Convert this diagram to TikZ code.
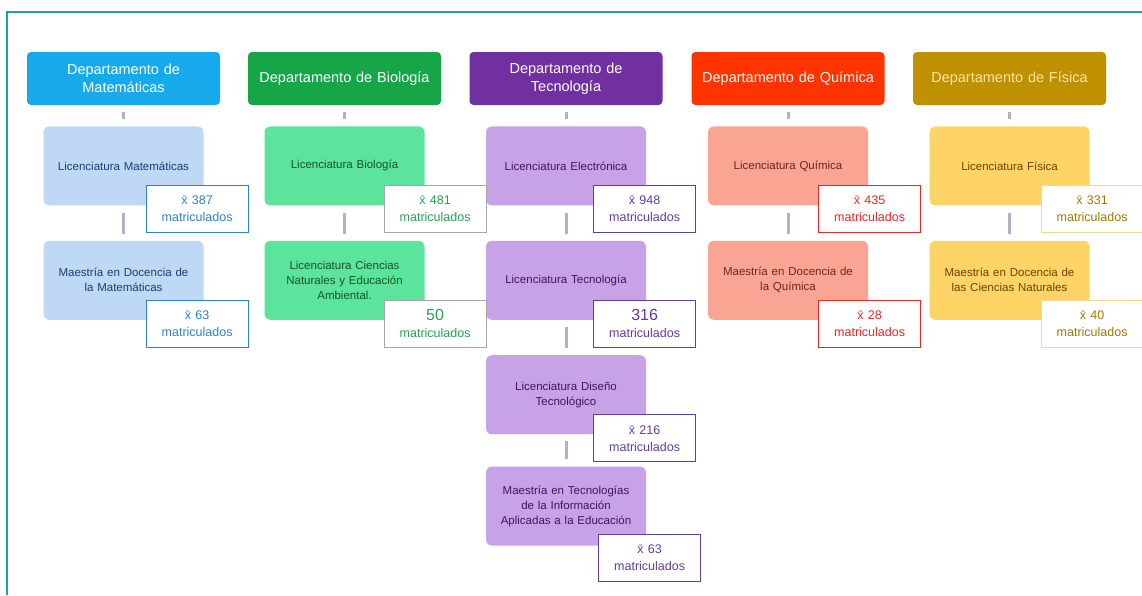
\documentclass[tikz,border=0pt]{standalone}
\usepackage{fontspec}
\setmainfont{Liberation Sans}
\usepackage{xcolor}
\usepackage{tikz}
\definecolor{matblue}{RGB}{22,170,236}
\definecolor{matlight}{RGB}{190,216,246}
\definecolor{mattext}{RGB}{32,60,112}
\definecolor{matstat}{RGB}{46,130,205}
\definecolor{biogreen}{RGB}{22,166,72}
\definecolor{biolight}{RGB}{92,228,156}
\definecolor{biotext}{RGB}{22,82,42}
\definecolor{biostat}{RGB}{40,160,85}
\definecolor{tecpurple}{RGB}{112,48,160}
\definecolor{teclight}{RGB}{200,162,230}
\definecolor{tectext}{RGB}{62,22,92}
\definecolor{tecstat}{RGB}{100,60,160}
\definecolor{quimred}{RGB}{255,52,0}
\definecolor{quimlight}{RGB}{250,165,148}
\definecolor{quimtext}{RGB}{112,36,26}
\definecolor{quimstat}{RGB}{230,40,40}
\definecolor{fisgold}{RGB}{191,144,0}
\definecolor{fislight}{RGB}{255,212,102}
\definecolor{fistext}{RGB}{100,72,0}
\definecolor{fisstat}{RGB}{160,122,0}
\definecolor{fisborder}{RGB}{240,216,140}
\definecolor{framecolor}{RGB}{30,160,166}
\definecolor{linkgray}{RGB}{170,180,200}
\usetikzlibrary{positioning, calc}

\newcommand{\xmean}{x\char"0304}

\begin{document}
\begin{tikzpicture}[x=1pt, y=1pt,
    dept/.style={fill=#1, rounded corners=4pt, minimum width=193pt, minimum height=53pt,
                 text width=190pt, align=center, font=\fontsize{14.5}{18}\selectfont, text=white, inner sep=1.5pt},
    prog/.style={fill=#1, rounded corners=6pt, minimum width=160pt, minimum height=79pt,
                 text width=157pt, align=center, font=\fontsize{11.5}{15}\selectfont, inner sep=1.5pt},
    stat/.style={draw=#1, text=#1, fill=white, line width=0.8pt, minimum width=102pt, minimum height=47pt,
                 text width=98pt, align=center, font=\fontsize{12.5}{17}\selectfont, inner sep=1pt, anchor=north west},
    link/.style={draw=linkgray, line width=3pt, shorten <=7pt, shorten >=7pt},
    node distance=35pt]

    \useasboundingbox (0,0) rectangle (1142,-595);
    \fill[white] (0,0) rectangle (1142,-595);
    \draw[framecolor, line width=1.6pt] (1142,-12) -- (7,-12) -- (7,-595);

    % departamentos
    \node[dept=matblue]   (mat)  at (123.5,-78.5)  {Departamento de\\Matemáticas};
    \node[dept=biogreen]  (bio)  at (344.5,-78.5)  {Departamento de Biología};
    \node[dept=tecpurple] (tec)  at (566,-78.5)    {Departamento de\\Tecnología};
    \node[dept=quimred]   (quim) at (788,-78.5)    {Departamento de Química};
    \node[dept=fisgold, text=fislight!60] (fis) at (1009.5,-78.5) {Departamento de Física};

    % programas
    \node[prog=matlight, text=mattext, below=21pt of mat] (mat1) {Licenciatura Matemáticas};
    \node[prog=matlight, text=mattext, below=of mat1] (mat2) {Maestría en Docencia de\\la Matemáticas};

    \node[prog=biolight, text=biotext, below=21pt of bio] (bio1) {Licenciatura Biología};
    \node[prog=biolight, text=biotext, below=of bio1] (bio2) {Licenciatura Ciencias\\Naturales y Educación\\Ambiental.};

    \node[prog=teclight, text=tectext, below=21pt of tec] (tec1) {Licenciatura Electrónica};
    \node[prog=teclight, text=tectext, below=of tec1] (tec2) {Licenciatura Tecnología};
    \node[prog=teclight, text=tectext, below=of tec2] (tec3) {Licenciatura Diseño\\Tecnológico};
    \node[prog=teclight, text=tectext, below=32pt of tec3] (tec4) {Maestría en Tecnologías\\de la Información\\Aplicadas a la Educación};

    \node[prog=quimlight, text=quimtext, below=21pt of quim] (quim1) {Licenciatura Química};
    \node[prog=quimlight, text=quimtext, below=of quim1] (quim2) {Maestría en Docencia de\\la Química};

    \node[prog=fislight, text=fistext, below=21pt of fis] (fis1) {Licenciatura Física};
    \node[prog=fislight, text=fistext, below=of fis1] (fis2) {Maestría en Docencia de\\las Ciencias Naturales};

    % matriculados
    \node[stat=matstat] (smat1) at ([shift={(-58,21)}]mat1.south east) {\xmean\ 387\\matriculados};
    \node[stat=matstat] (smat2) at ([shift={(-58,20)}]mat2.south east) {\xmean\ 63\\matriculados};
    \node[stat=biostat, draw=gray!70] (sbio1) at ([shift={(-41,21)}]bio1.south east) {\xmean\ 481\\matriculados};
    \node[stat=biostat, draw=gray!70] (sbio2) at ([shift={(-41,20)}]bio2.south east) {{\fontsize{16}{17}\selectfont 50}\\matriculados};
    \node[stat=tecstat] (stec1) at ([shift={(-53,21)}]tec1.south east) {\xmean\ 948\\matriculados};
    \node[stat=tecstat] (stec2) at ([shift={(-53,20)}]tec2.south east) {{\fontsize{16}{17}\selectfont 316}\\matriculados};
    \node[stat=tecstat] (stec3) at ([shift={(-53,20)}]tec3.south east) {\xmean\ 216\\matriculados};
    \node[stat=tecstat] (stec4) at ([shift={(-48,12)}]tec4.south east) {\xmean\ 63\\matriculados};
    \node[stat=quimstat] (squim1) at ([shift={(-50,21)}]quim1.south east) {\xmean\ 435\\matriculados};
    \node[stat=quimstat] (squim2) at ([shift={(-50,20)}]quim2.south east) {\xmean\ 28\\matriculados};
    \node[stat=fisstat, draw=fisborder] (sfis1) at ([shift={(-49,21)}]fis1.south east) {\xmean\ 331\\matriculados};
    \node[stat=fisstat, draw=fisborder] (sfis2) at ([shift={(-49,20)}]fis2.south east) {\xmean\ 40\\matriculados};

    % conectores
    \foreach \a/\b in {mat/mat1, mat1/mat2, bio/bio1, bio1/bio2, tec/tec1, tec1/tec2, tec2/tec3, tec3/tec4,
                       quim/quim1, quim1/quim2, fis/fis1, fis1/fis2}
        \draw[link] (\a.south) -- (\b.north);
\end{tikzpicture}
\end{document}
